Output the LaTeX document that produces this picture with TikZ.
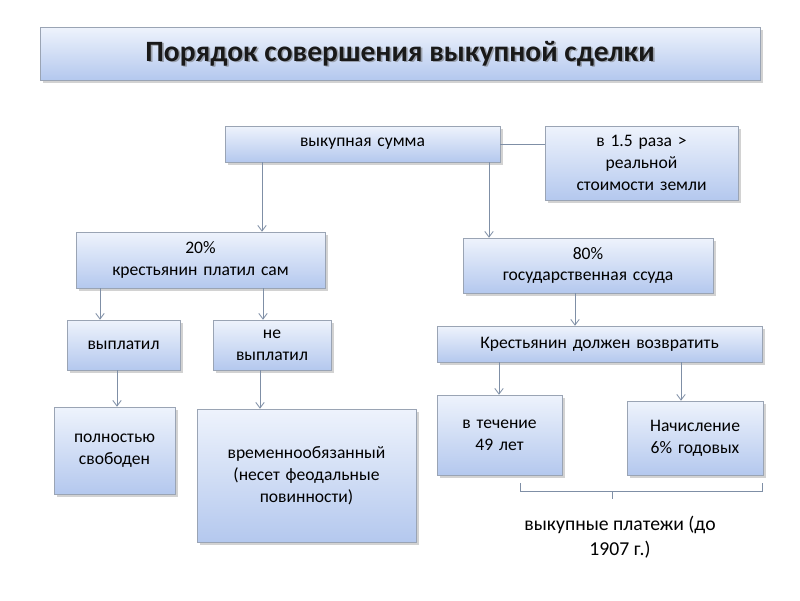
\documentclass[tikz,border=0pt]{standalone}
\usepackage{fontspec}
\setmainfont{Carlito}
\usetikzlibrary{shadows,arrows.meta,calc}
\definecolor{bxtop}{HTML}{EEF3FC}
\definecolor{bxbot}{HTML}{B4C8EE}
\definecolor{bxline}{HTML}{9AA4B4}
\definecolor{ln}{HTML}{7F8FA6}
\tikzset{
 box/.style={draw=bxline,top color=bxtop,bottom color=bxbot,align=center,inner sep=0pt,
   drop shadow={shadow xshift=2pt,shadow yshift=-2pt,opacity=0.35},font=\fontsize{12.5}{15.5}\selectfont},
 arr/.style={draw=ln,-{Straight Barb[length=4pt,width=6pt]},line width=0.6pt},
 con/.style={draw=ln,line width=0.6pt}
}
\newcommand{\bx}[6]{\node[box,minimum width={(#4-#2)*0.025cm},minimum height={(#5-#3)*0.025cm},text width={(#4-#2)*0.025cm-6pt}] (#1) at ({(#2+#4)/2},{(#3+#5)/2}) {#6};}
\begin{document}
\begin{tikzpicture}[x=0.025cm,y=-0.025cm]
\useasboundingbox (0,0) rectangle (800,600);
\fill[white] (0,0) rectangle (800,600);
\bx{t}{40}{27}{760}{80}{}
\node[font=\fontsize{21}{24}\selectfont\bfseries,text=black!60,opacity=0.5] at ([xshift=1.2pt,yshift=-1.2pt]t.center) {Порядок совершения выкупной сделки};
\node[font=\fontsize{21}{24}\selectfont\bfseries,text=black!90] (tt) at (t.center) {Порядок совершения выкупной сделки};
\bx{s}{225}{126}{500}{162}{выкупная сумма}
\bx{r}{545}{126}{738}{200}{в 1.5 раза >\\реальной\\стоимости земли}
\bx{a}{76}{232}{325}{288}{20\%\\крестьянин платил сам}
\bx{b}{463}{238}{713}{293}{80\%\\государственная ссуда}
\bx{c}{67}{320}{180}{370}{выплатил}
\bx{d}{213}{320}{331}{370}{не\\выплатил}
\bx{e}{437}{326}{762}{362}{Крестьянин должен возвратить}
\bx{f}{54}{407}{175}{494}{полностью\\свободен}
\bx{g}{197}{409}{416}{542}{временнообязанный\\(несет феодальные\\повинности)}
\bx{h}{437}{395}{562}{475}{в течение\\49 лет}
\bx{k}{627}{401}{763}{475}{Начисление\\6\% годовых}
\draw[con] (s.east) -- (r.west |- s.east);
\draw[arr] (s.south -| 262,0) -- (a.north -| 262,0);
\draw[arr] (s.south -| 489,0) -- (b.north -| 489,0);
\draw[arr] (a.south -| 100,0) -- (c.north -| 100,0);
\draw[arr] (a.south -| 263,0) -- (d.north -| 263,0);
\draw[arr] (b.south -| 575,0) -- (e.north -| 575,0);
\draw[arr] (e.south -| 499,0) -- (h.north -| 499,0);
\draw[arr] (e.south -| 681,0) -- (k.north -| 681,0);
\draw[arr] (c.south -| 117,0) -- (f.north -| 117,0);
\draw[arr] (d.south -| 260,0) -- (g.north -| 260,0);
\coordinate (bl) at (520,483);
\coordinate (br) at (762,483);
\draw[con] (bl) -- (520,491) -- (762,491) -- (br);
\draw[con] (612,491) -- (612,499);
\node[font=\fontsize{14}{17.5}\selectfont,align=center] (p) at (620,537) {выкупные платежи (до\\1907 г.)};
\end{tikzpicture}
\end{document}
